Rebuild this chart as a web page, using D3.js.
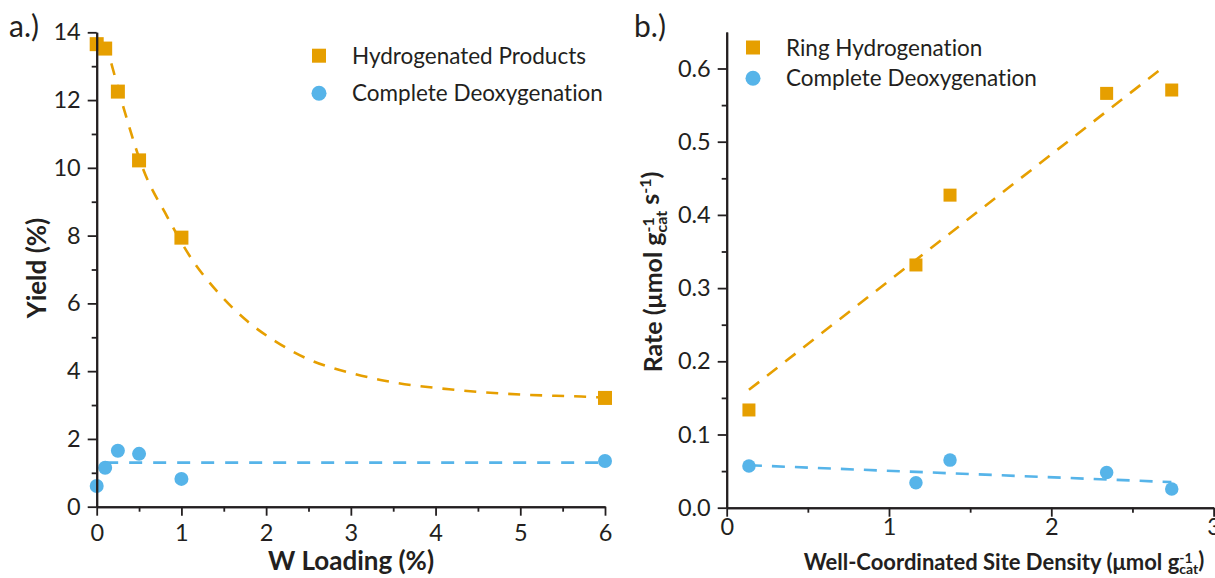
<!DOCTYPE html>
<html>
<head>
<meta charset="utf-8">
<script src="https://cdn.jsdelivr.net/npm/d3@7"></script>
<style>
  html, body { margin: 0; padding: 0; background: #fff; }
  svg { display: block; }
  text { font-family: Lato, "Open Sans", sans-serif; fill: #231f20;
         font-variant-ligatures: none; font-feature-settings: "liga" 0, "clig" 0; }
</style>
</head>
<body>
<svg id="chart" width="1215" height="578"></svg>
<script>
// ---- Panel a: yield vs W loading ----
const wLoading = [0, 0.1, 0.25, 0.5, 1, 6];
const hydroYield = [13.65, 13.52, 12.25, 10.22, 7.94, 3.21];
const deoxYield = [0.61, 1.15, 1.65, 1.56, 0.82, 1.35];
// exponential-decay trend through the hydrogenated products
const hydroFitX = [0.1, 0.16, 0.32, 0.55, 0.83, 1.1, 1.44, 1.78, 2.11, 2.5, 3.04, 3.35, 4.22, 5.0, 5.72, 6];
const hydroFitY = [13.7, 13.19, 11.75, 9.95, 8.57, 7.39, 6.30, 5.47, 4.88, 4.35, 3.92, 3.74, 3.45, 3.31, 3.25, 3.22];
// flat trend through complete deoxygenation
const deoxFitX = [0.1, 6];
const deoxFitY = [1.30, 1.30];
const yieldTicks = [0, 2, 4, 6, 8, 10, 12, 14];
const loadingTicks = [0, 1, 2, 3, 4, 5, 6];

// ---- Panel b: rate vs well-coordinated site density ----
const siteDensity = [0.137, 1.166, 1.376, 2.341, 2.742];
const ringRate = [0.1335, 0.3316, 0.427, 0.566, 0.5706];
const deoxRate = [0.057, 0.034, 0.065, 0.048, 0.0255];
const ringFitX = [0.137, 2.68];
const ringFitY = [0.161, 0.600];
const deoxRateFitX = [0.137, 2.74];
const deoxRateFitY = [0.058, 0.035];
const rateTicks = [0, 0.1, 0.2, 0.3, 0.4, 0.5, 0.6];
const densityTicks = [0, 1, 2, 3];

const ORANGE = "#E69F00";
const BLUE = "#56B4E9";
const INK = "#231f20";

const svg = d3.select("#chart");

function drawAxes(g, x, y, opts) {
  const yMajor = d3.axisLeft(y).tickValues(opts.yTicks).tickSize(9).tickPadding(7)
    .tickSizeOuter(0).tickFormat(opts.yFormat);
  const yMinor = d3.axisLeft(y).tickValues(opts.yMinor).tickSize(5).tickSizeOuter(0).tickFormat("");
  const xMajor = d3.axisBottom(x).tickValues(opts.xTicks).tickSize(9).tickSizeOuter(0)
    .tickFormat(d3.format("d"));
  const xMinor = d3.axisBottom(x).tickValues(opts.xMinor).tickSize(5).tickSizeOuter(0).tickFormat("");

  const [y0] = y.range();
  const [x0] = x.range();

  const gy = g.append("g").attr("transform", `translate(${x0},0)`);
  gy.call(yMinor);
  gy.append("g").call(yMajor);
  const gx = g.append("g").attr("transform", `translate(0,${y0})`);
  gx.call(xMinor);
  gx.append("g").call(xMajor);

  [gy, gx].forEach(a => {
    a.selectAll("path.domain").attr("stroke", INK).attr("stroke-width", 2);
    a.selectAll(".tick line").attr("stroke", INK).attr("stroke-width", 1.8);
    a.selectAll("text").style("font-family", "Lato, sans-serif").style("font-size", "23.5px")
      .attr("fill", INK);
  });
  gx.selectAll(".tick text").attr("dy", null).attr("y", opts.xLabelBaseline);
}

function drawSeries(g, x, y, xs, ys, fitX, fitY, color, shape, size, dash) {
  const line = d3.line().x(d => x(d[0])).y(d => y(d[1])).curve(d3.curveMonotoneX);
  g.append("path")
    .datum(d3.zip(fitX, fitY))
    .attr("d", line)
    .attr("fill", "none")
    .attr("stroke", color)
    .attr("stroke-width", 2.6)
    .attr("stroke-dasharray", dash);
  const pts = d3.zip(xs, ys);
  if (shape === "square") {
    g.selectAll(null).data(pts).join("rect")
      .attr("x", d => x(d[0]) - size / 2)
      .attr("y", d => y(d[1]) - size / 2)
      .attr("width", size).attr("height", size)
      .attr("fill", color);
  } else {
    g.selectAll(null).data(pts).join("circle")
      .attr("cx", d => x(d[0])).attr("cy", d => y(d[1]))
      .attr("r", size / 2).attr("fill", color);
  }
}

function legend(g, x, y0, gap, items) {
  items.forEach((it, i) => {
    const cy = y0 + i * gap;
    if (it.shape === "square") {
      g.append("rect").attr("x", x - 7).attr("y", cy - 7).attr("width", 14).attr("height", 14)
        .attr("fill", it.color);
    } else {
      g.append("circle").attr("cx", x).attr("cy", cy).attr("r", 7.5).attr("fill", it.color);
    }
    g.append("text").attr("x", x + 33).attr("y", cy + 8)
      .style("font-size", "22.5px").text(it.label);
  });
}

// ---------- Panel a ----------
{
  const x = d3.scaleLinear().domain([0, 6]).range([96.7, 605]);
  const y = d3.scaleLinear().domain([0, 14]).range([506.7, 32.3]);
  const g = svg.append("g");
  drawSeries(g, x, y, wLoading, hydroYield, hydroFitX, hydroFitY, ORANGE, "square", 14, "12,10");
  drawSeries(g, x, y, wLoading, deoxYield, deoxFitX, deoxFitY, BLUE, "circle", 14, "13,11");
  drawAxes(g, x, y, {
    yTicks: yieldTicks,
    yMinor: d3.range(1, 14, 2),
    yFormat: d3.format("d"),
    xTicks: loadingTicks,
    xMinor: d3.range(0.5, 6, 1),
    xLabelBaseline: 34
  });
  legend(g, 319, 55.7, 37.6, [
    { shape: "square", color: ORANGE, label: "Hydrogenated Products" },
    { shape: "circle", color: BLUE, label: "Complete Deoxygenation" }
  ]);
  g.append("text").attr("x", 9).attr("y", 37).style("font-size", "30px").text("a.)");
  g.append("text").attr("x", 351).attr("y", 570).attr("text-anchor", "middle")
    .style("font-size", "26px").style("font-weight", 700).text("W Loading (%)");
  g.append("text").attr("transform", "translate(46,268) rotate(-90)").attr("text-anchor", "middle")
    .style("font-size", "26px").style("font-weight", 700).text("Yield (%)");
}

// ---------- Panel b ----------
{
  const x = d3.scaleLinear().domain([0, 3]).range([726.7, 1213.6]);
  const y = d3.scaleLinear().domain([0, 0.65]).range([507.7, 31.9]);
  const g = svg.append("g");
  drawSeries(g, x, y, siteDensity, ringRate, ringFitX, ringFitY, ORANGE, "square", 13, "13,10");
  drawSeries(g, x, y, siteDensity, deoxRate, deoxRateFitX, deoxRateFitY, BLUE, "circle", 13.5, "13,10");
  drawAxes(g, x, y, {
    yTicks: rateTicks,
    yMinor: d3.range(0.05, 0.65, 0.1),
    yFormat: d3.format(".1f"),
    xTicks: densityTicks,
    xMinor: [0.5, 1.5, 2.5],
    xLabelBaseline: 27.5
  });
  legend(g, 753, 47.5, 30.8, [
    { shape: "square", color: ORANGE, label: "Ring Hydrogenation" },
    { shape: "circle", color: BLUE, label: "Complete Deoxygenation" }
  ]);
  g.append("text").attr("x", 634).attr("y", 37).style("font-size", "30px").text("b.)");

  // unit label with a superscript stacked over a subscript
  function unitLabel(t, parts, small) {
    parts.forEach(p => {
      if (p.stack) {
        const sup = t.append("tspan").attr("dy", "-0.5em").style("font-size", small).text(p.sup);
        const w = sup.node().getComputedTextLength();
        t.append("tspan").attr("dx", -w).attr("dy", "0.8em").style("font-size", small).text(p.sub);
        t.append("tspan").attr("dy", "-0.3em").text(p.after || "");
      } else if (p.sup) {
        t.append("tspan").attr("dy", "-0.5em").style("font-size", small).text(p.sup);
        t.append("tspan").attr("dy", "0.33em").text(p.after || "");
      } else {
        t.append("tspan").text(p.text);
      }
    });
  }

  const xl = g.append("text").attr("x", 1004).attr("y", 570).attr("text-anchor", "middle")
    .style("font-size", "22px").style("font-weight", 700);
  unitLabel(xl, [
    { text: "Well-Coordinated Site Density (\u03bcmol g" },
    { stack: true, sup: "-1", sub: "cat", after: ")" }
  ], "14px");

  const yl = g.append("text").attr("transform", "translate(662,272) rotate(-90)").attr("text-anchor", "middle")
    .style("font-size", "25px").style("font-weight", 700);
  unitLabel(yl, [
    { text: "Rate (\u03bcmol g" },
    { stack: true, sup: "-1", sub: "cat", after: " s" },
    { sup: "-1", after: ")" }
  ], "16px");
}
</script>
</body>
</html>
